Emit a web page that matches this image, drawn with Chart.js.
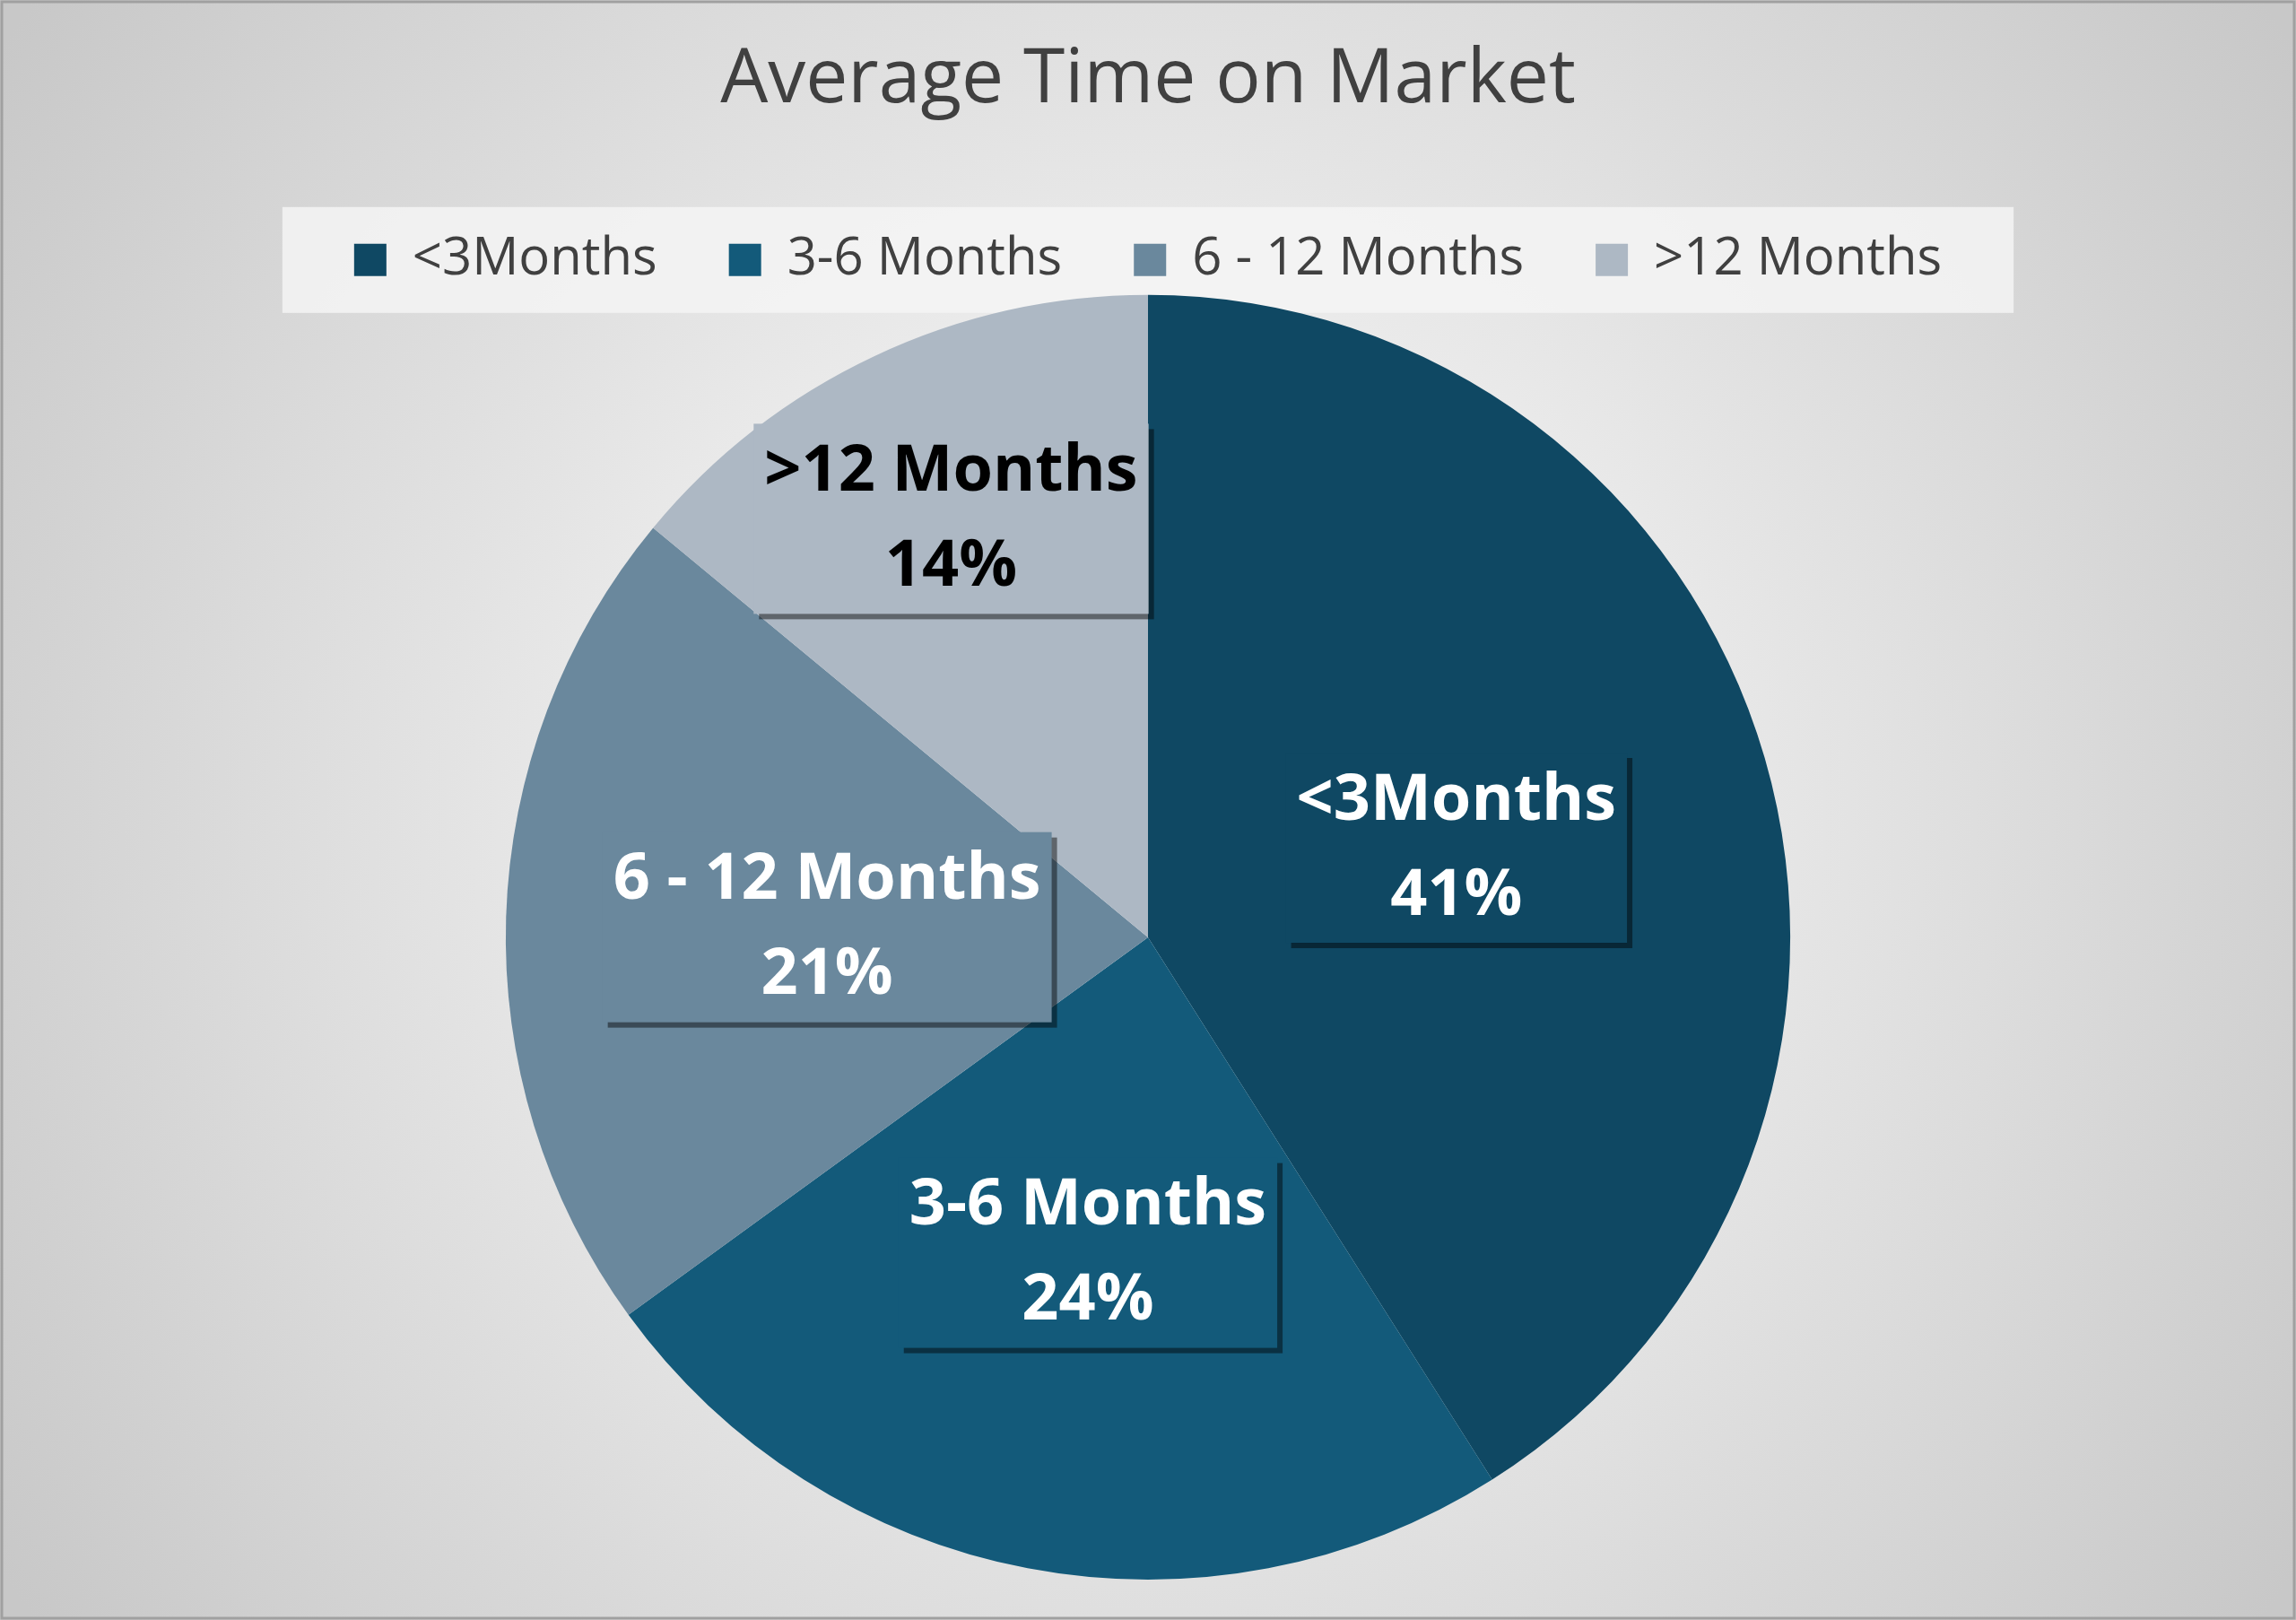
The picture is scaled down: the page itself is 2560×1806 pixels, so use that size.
<!DOCTYPE html>
<html><head><meta charset="utf-8">
<script src="https://cdn.jsdelivr.net/npm/chart.js@4"></script>
<style>html,body{margin:0;padding:0;background:#fff}#wrap{width:2560px;height:1806px;position:relative}</style>
</head><body><div id="wrap"><canvas id="c" width="2560" height="1806"></canvas></div>
<script>
const categories = ['<3Months', '3-6 Months', '6 - 12 Months', '>12 Months'];
const values = [41, 24, 21, 14];
const colors = ['#0f4863', '#135a7a', '#6a889d', '#adb8c4'];
const labelColors = ['#ffffff', '#ffffff', '#ffffff', '#000000'];
const labelRadius = [0.5, 0.5, 0.5, 0.72];

const bgPlugin = {
  id: 'bg',
  beforeDraw(chart) {
    const {ctx, width, height} = chart;
    const g = ctx.createRadialGradient(width/2, height/2, 0, width/2, height/2, width*0.6);
    g.addColorStop(0, '#ffffff'); g.addColorStop(1, '#c8c8c8');
    ctx.save(); ctx.fillStyle = g; ctx.fillRect(0, 0, width, height);
    ctx.strokeStyle = '#a0a0a0'; ctx.lineWidth = 3; ctx.strokeRect(2, 2, width-4, height-4);
    const hb = chart.legend.legendHitBoxes;
    if (hb && hb.length) {
      const l = hb[0].left - 80, r = hb[hb.length-1].left + hb[hb.length-1].width + 80;
      const t = hb[0].top - 30, b = hb[0].top + hb[0].height + 30;
      ctx.fillStyle = 'rgba(245,245,245,0.85)'; ctx.fillRect(l, t, r-l, b-t);
    }
    ctx.restore();
  }
};
const labelPlugin = {
  id: 'lbl',
  afterDatasetsDraw(chart) {
    const {ctx} = chart;
    const meta = chart.getDatasetMeta(0);
    ctx.save();
    ctx.font = 'bold 72px "Open Sans", Lato, sans-serif';
    ctx.textAlign = 'center'; ctx.textBaseline = 'middle';
    meta.data.forEach((arc, i) => {
      const p = arc.getProps(['x','y','startAngle','endAngle','outerRadius'], true);
      const a = (p.startAngle + p.endAngle) / 2;
      const r = p.outerRadius * labelRadius[i];
      const cx = p.x + Math.cos(a) * r, cy = p.y + Math.sin(a) * r;
      const pct = values[i] + '%';
      const w = Math.max(ctx.measureText(categories[i]).width, ctx.measureText(pct).width) + 24;
      const h = 212;
      ctx.fillStyle = 'rgba(0,0,0,0.45)';
      ctx.fillRect(cx - w/2 + 6, cy - h/2 + 6, w, h);
      ctx.fillStyle = colors[i];
      ctx.fillRect(cx - w/2, cy - h/2, w, h);
      ctx.fillStyle = labelColors[i];
      ctx.fillText(categories[i], cx, cy - 52);
      ctx.fillText(pct, cx, cy + 54);
    });
    ctx.restore();
  }
};
new Chart(document.getElementById('c'), {
  type: 'pie',
  data: { labels: categories, datasets: [{ data: values, backgroundColor: colors, borderWidth: 0 }] },
  options: {
    responsive: false, animation: false,
    layout: { padding: { top: 10, bottom: 45 } },
    plugins: {
      title: { display: true, text: 'Average Time on Market', color: '#404040',
        font: { family: '"Open Sans", Lato, sans-serif', size: 84, weight: 'normal' }, padding: { top: 30, bottom: 40 } },
      legend: { position: 'top', labels: { color: '#404040', boxWidth: 36, boxHeight: 36, padding: 80,
        font: { family: '"Open Sans", Lato, sans-serif', size: 58 } } },
      tooltip: { enabled: false }
    }
  },
  plugins: [bgPlugin, labelPlugin]
});
</script></body></html>
